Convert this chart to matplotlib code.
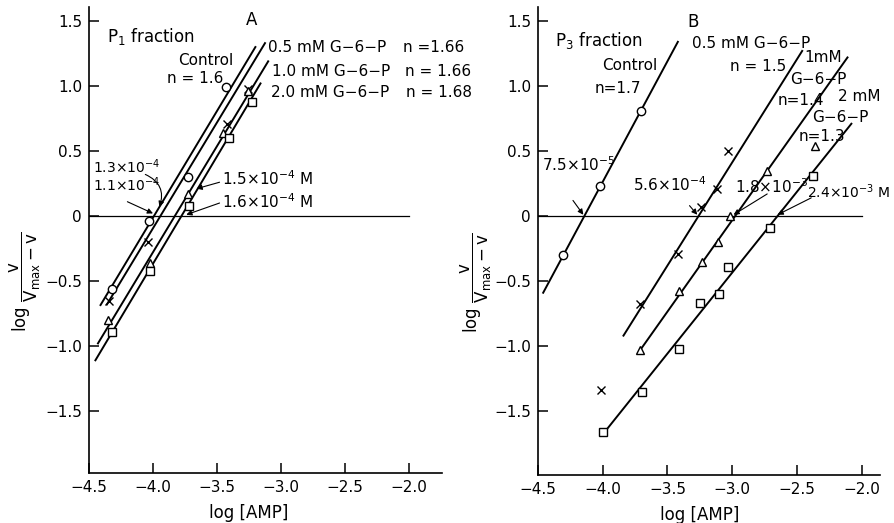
import matplotlib
matplotlib.use("Agg")
import matplotlib.pyplot as plt
import numpy as np

plt.rcParams["font.family"] = "DejaVu Sans"
plt.rcParams["mathtext.fontset"] = "dejavusans"

x_ticks = [-4.5, -4.0, -3.5, -3.0, -2.5, -2.0]
x_tick_labels = ["\u22124.5", "\u22124.0", "\u22123.5", "\u22123.0", "\u22122.5", "\u22122.0"]
y_ticks = [1.5, 1.0, 0.5, 0.0, -0.5, -1.0, -1.5]
y_tick_labels = ["1.5", "1.0", "0.5", "0", "\u22120.5", "\u22121.0", "\u22121.5"]

# panel A, P1 fraction
a_ctrl_x = [-4.32, -4.03, -3.73, -3.43]
a_ctrl_y = [-0.56, -0.04, 0.30, 0.99]
a_g05_x = [-4.34, -4.04, -3.42, -3.26]
a_g05_y = [-0.65, -0.20, 0.71, 0.98]
a_g10_x = [-4.35, -4.02, -3.73, -3.45, -3.26]
a_g10_y = [-0.80, -0.36, 0.17, 0.64, 0.96]
a_g20_x = [-4.32, -4.02, -3.72, -3.41, -3.23]
a_g20_y = [-0.89, -0.42, 0.08, 0.60, 0.88]
# fitted lines: (x start, y start, x end, y end)
a_lines = [(-4.41, -0.685, -3.20, 1.30),
           (-4.36, -0.68, -3.125, 1.33),
           (-4.43, -0.98, -3.10, 1.19),
           (-4.45, -1.11, -3.16, 1.02)]

# panel B, P3 fraction
b_ctrl_x = [-4.31, -4.02, -3.705]
b_ctrl_y = [-0.30, 0.23, 0.81]
b_g05_x = [-4.01, -3.71, -3.42, -3.24, -3.12, -3.03]
b_g05_y = [-1.34, -0.68, -0.29, 0.07, 0.21, 0.50]
b_g1_x = [-3.71, -3.41, -3.23, -3.11, -3.02, -2.73, -2.36]
b_g1_y = [-1.03, -0.58, -0.35, -0.20, 0.0, 0.35, 0.54]
b_g2_x = [-4.0, -3.70, -3.41, -3.25, -3.10, -3.03, -2.71, -2.38]
b_g2_y = [-1.66, -1.35, -1.02, -0.67, -0.60, -0.39, -0.09, 0.31]
b_lines = [(-4.46, -0.59, -3.42, 1.34),
           (-3.84, -0.92, -2.46, 1.27),
           (-3.71, -1.03, -2.11, 1.22),
           (-3.96, -1.63, -2.08, 0.71)]

FS = 11
ylab = r"$\mathrm{log}\ \dfrac{\mathrm{v}}{\mathrm{V_{max}-v}}$"

fig = plt.figure(figsize=(8.95, 5.23), dpi=100)
ax_a = fig.add_axes([89 / 895, 1 - 473 / 523, (442 - 89) / 895, (473 - 7) / 523])
ax_b = fig.add_axes([538 / 895, 1 - 475 / 523, (880 - 538) / 895, (475 - 7) / 523])

ax_a.set_xlim(-4.5, -1.742)
ax_a.set_ylim(-1.977, 1.608)
ax_b.set_xlim(-4.5, -1.859)
ax_b.set_ylim(-1.992, 1.608)


def style_axes(ax, lab_x):
    for side in ["top", "right"]:
        ax.spines[side].set_visible(False)
    for side in ["left", "bottom"]:
        ax.spines[side].set_linewidth(1.2)
    ax.set_xticks(x_ticks)
    ax.set_xticklabels(x_tick_labels)
    ax.set_yticks(y_ticks)
    ax.set_yticklabels(y_tick_labels)
    ax.tick_params(direction="in", length=7, width=1.1, labelsize=FS, pad=5)
    ax.axhline(0, xmin=0, xmax=(-2.0 + 4.5) / (ax.get_xlim()[1] + 4.5),
               color="k", lw=0.9)
    ax.text(lab_x, -0.066, "log [AMP]", transform=ax.transAxes,
            ha="center", va="top", fontsize=FS + 1)
    ax.text(-0.18, 0.41, ylab, transform=ax.transAxes, rotation=90,
            ha="center", va="center", fontsize=FS + 1)


style_axes(ax_a, 0.453)
style_axes(ax_b, 0.474)

mk = dict(mfc="white", mec="k", color="none", mew=1.0, ms=6)

# ---- panel A
for x0, y0, x1, y1 in a_lines:
    ax_a.plot([x0, x1], [y0, y1], color="k", lw=1.4)
ax_a.plot(a_ctrl_x, a_ctrl_y, "o", **mk)
ax_a.plot(a_g05_x, a_g05_y, "x", **mk)
ax_a.plot(a_g10_x, a_g10_y, "^", **mk)
ax_a.plot(a_g20_x, a_g20_y, "s", **mk)

ax_a.text(-3.23, 1.51, "A", ha="center", va="center", fontsize=FS + 1)
ax_a.text(-4.36, 1.38, r"P$_1$ fraction", ha="left", va="center", fontsize=FS + 1)
ax_a.text(-3.80, 1.20, "Control", ha="left", va="center", fontsize=FS)
ax_a.text(-3.89, 1.06, "n = 1.6", ha="left", va="center", fontsize=FS)
ax_a.text(-3.10, 1.30, "0.5 mM G\u22126\u2212P", ha="left", va="center", fontsize=FS)
ax_a.text(-2.05, 1.30, "n =1.66", ha="left", va="center", fontsize=FS)
ax_a.text(-3.07, 1.11, "1.0 mM G\u22126\u2212P", ha="left", va="center", fontsize=FS)
ax_a.text(-2.03, 1.11, "n = 1.66", ha="left", va="center", fontsize=FS)
ax_a.text(-3.08, 0.95, "2.0 mM G\u22126\u2212P", ha="left", va="center", fontsize=FS)
ax_a.text(-2.02, 0.95, "n = 1.68", ha="left", va="center", fontsize=FS)

arw = dict(arrowstyle="-|>", color="k", lw=0.8, mutation_scale=8, shrinkA=0, shrinkB=0)
ax_a.text(-4.47, 0.33, r"1.3$\times$10$^{-4}$", ha="left", va="baseline", fontsize=FS - 1)
ax_a.text(-4.47, 0.19, r"1.1$\times$10$^{-4}$", ha="left", va="baseline", fontsize=FS - 1)
ax_a.text(-3.46, 0.235, r"1.5$\times$10$^{-4}$ M", ha="left", va="baseline", fontsize=FS)
ax_a.text(-3.46, 0.065, r"1.6$\times$10$^{-4}$ M", ha="left", va="baseline", fontsize=FS)
ax_a.annotate("", xy=(-4.0, 0.02), xytext=(-4.20, 0.11), arrowprops=arw)
ax_a.annotate("", xy=(-3.95, 0.07), xytext=(-4.06, 0.32),
              arrowprops=dict(arw, connectionstyle="arc3,rad=-0.45"))
ax_a.annotate("", xy=(-3.66, 0.21), xytext=(-3.48, 0.26), arrowprops=arw)
ax_a.annotate("", xy=(-3.74, 0.01), xytext=(-3.48, 0.10), arrowprops=arw)

# ---- panel B
for x0, y0, x1, y1 in b_lines:
    ax_b.plot([x0, x1], [y0, y1], color="k", lw=1.4)
ax_b.plot(b_ctrl_x, b_ctrl_y, "o", **mk)
ax_b.plot(b_g05_x, b_g05_y, "x", **mk)
ax_b.plot(b_g1_x, b_g1_y, "^", **mk)
ax_b.plot(b_g2_x, b_g2_y, "s", **mk)

ax_b.text(-3.30, 1.49, "B", ha="center", va="center", fontsize=FS + 1)
ax_b.text(-4.37, 1.35, r"P$_3$ fraction", ha="left", va="center", fontsize=FS + 1)
ax_b.text(-3.58, 1.16, "Control", ha="right", va="center", fontsize=FS)
ax_b.text(-3.70, 0.98, "n=1.7", ha="right", va="center", fontsize=FS)
ax_b.text(-3.31, 1.33, "0.5 mM G\u22126\u2212P", ha="left", va="center", fontsize=FS)
ax_b.text(-3.02, 1.15, "n = 1.5", ha="left", va="center", fontsize=FS)
ax_b.text(-2.44, 1.22, "1mM", ha="left", va="center", fontsize=FS)
ax_b.text(-2.55, 1.05, "G\u22126\u2212P", ha="left", va="center", fontsize=FS)
ax_b.text(-2.65, 0.89, "n=1.4", ha="left", va="center", fontsize=FS)
ax_b.text(-2.18, 0.92, "2 mM", ha="left", va="center", fontsize=FS)
ax_b.text(-2.38, 0.76, "G\u22126\u2212P", ha="left", va="center", fontsize=FS)
ax_b.text(-2.49, 0.61, "n=1.3", ha="left", va="center", fontsize=FS)

ax_b.text(-4.47, 0.345, r"7.5$\times$10$^{-5}$", ha="left", va="baseline", fontsize=FS)
ax_b.text(-3.77, 0.195, r"5.6$\times$10$^{-4}$", ha="left", va="baseline", fontsize=FS)
ax_b.text(-2.98, 0.175, r"1.8$\times$10$^{-3}$", ha="left", va="baseline", fontsize=FS)
ax_b.text(-2.42, 0.135, r"2.4$\times$10$^{-3}$ M", ha="left", va="baseline", fontsize=FS - 1)
ax_b.annotate("", xy=(-4.15, 0.01), xytext=(-4.23, 0.12), arrowprops=arw)
ax_b.annotate("", xy=(-3.27, 0.01), xytext=(-3.33, 0.08), arrowprops=arw)
ax_b.annotate("", xy=(-2.99, 0.01), xytext=(-2.73, 0.17), arrowprops=arw)
ax_b.annotate("", xy=(-2.65, 0.01), xytext=(-2.39, 0.14), arrowprops=arw)

fig.savefig("out.png", dpi=100)
